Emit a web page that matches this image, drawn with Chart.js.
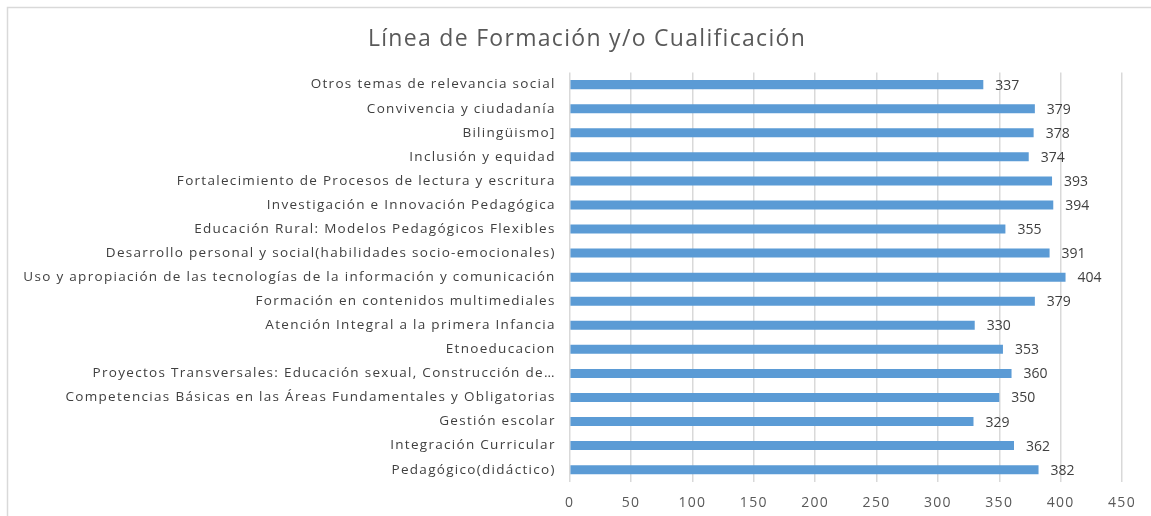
<!DOCTYPE html>
<html>
<head>
<meta charset="utf-8">
<script src="https://cdn.jsdelivr.net/npm/chart.js@4"></script>
<style>
  html, body { margin: 0; padding: 0; background: #ffffff; }
  #wrap { width: 1151px; height: 516px; position: relative; }
</style>
</head>
<body>
<div id="wrap"><canvas id="c" width="1151" height="516"></canvas></div>
<script>
const chartTitle = "Línea de Formación y/o Cualificación";
const categories = [
  "Otros temas de relevancia social",
  "Convivencia y ciudadanía",
  "Bilingüismo]",
  "Inclusión y equidad",
  "Fortalecimiento de Procesos de lectura y escritura",
  "Investigación e Innovación Pedagógica",
  "Educación Rural: Modelos Pedagógicos Flexibles",
  "Desarrollo personal y social(habilidades socio-emocionales)",
  "Uso y apropiación de las tecnologías de la información y comunicación",
  "Formación en contenidos multimediales",
  "Atención Integral a la primera Infancia",
  "Etnoeducacion",
  "Proyectos Transversales: Educación sexual, Construcción de…",
  "Competencias Básicas en las Áreas Fundamentales y Obligatorias",
  "Gestión escolar",
  "Integración Curricular",
  "Pedagógico(didáctico)"
];
const values = [337, 379, 378, 374, 393, 394, 355, 391, 404, 379, 330, 353, 360, 350, 329, 362, 382];
const xTicks = [0, 50, 100, 150, 200, 250, 300, 350, 400, 450];

const FONT = "'Open Sans', 'Liberation Sans', sans-serif";

const frame = {
  id: 'frame',
  beforeDraw(chart) {
    const ctx = chart.ctx;
    ctx.save();
    ctx.fillStyle = '#ffffff';
    ctx.fillRect(0, 0, chart.width, chart.height);
    ctx.strokeStyle = '#d9d9d9';
    ctx.lineWidth = 1.5;
    ctx.beginPath();
    ctx.moveTo(7.5, chart.height);
    ctx.lineTo(7.5, 7.5);
    ctx.lineTo(chart.width, 7.5);
    ctx.stroke();
    ctx.restore();
    // wider text to mimic the stretched Calibri of the original
    if ('letterSpacing' in ctx) ctx.letterSpacing = '1.3px';
  },
  beforeDatasetsDraw(chart) {
    if ('letterSpacing' in chart.ctx) chart.ctx.letterSpacing = '0px';
  }
};

const valueLabels = {
  id: 'valueLabels',
  afterDatasetsDraw(chart) {
    const ctx = chart.ctx;
    const meta = chart.getDatasetMeta(0);
    ctx.save();
    ctx.font = "14px " + FONT;
    ctx.fillStyle = '#404040';
    ctx.textAlign = 'left';
    ctx.textBaseline = 'middle';
    meta.data.forEach((bar, i) => {
      ctx.fillText(String(values[i]), bar.x + 12, bar.y + 1);
    });
    ctx.restore();
  }
};

new Chart(document.getElementById('c'), {
  type: 'bar',
  data: {
    labels: categories,
    datasets: [{
      data: values,
      backgroundColor: '#5b9bd5',
      borderWidth: 0,
      barPercentage: 0.375,
      categoryPercentage: 1.0
    }]
  },
  options: {
    indexAxis: 'y',
    responsive: false,
    animation: false,
    layout: { padding: { left: 52, right: 29, top: 0, bottom: 0 } },
    plugins: {
      legend: { display: false },
      tooltip: { enabled: false },
      title: {
        display: true,
        text: chartTitle,
        color: '#595959',
        font: { family: FONT, size: 23, weight: 'normal' },
        padding: { top: 26, bottom: 19 }
      }
    },
    scales: {
      x: {
        min: 0,
        max: 450,
        afterBuildTicks(scale) { scale.ticks = xTicks.map(v => ({ value: v })); },
        afterFit(scale) { scale.height = 34.3; },
        grid: { color: '#d9d9d9', lineWidth: 1.5, drawTicks: false },
        border: { display: false },
        ticks: {
          color: '#595959',
          padding: 13,
          font: { family: FONT, size: 14 }
        }
      },
      y: {
        afterFit(scale) { scale.width = 517.7; },
        afterUpdate(scale) { scale._computeLabelArea = () => undefined; },
        grid: { display: false, drawTicks: false },
        border: { display: false },
        ticks: {
          color: '#404040',
          padding: 14,
          autoSkip: false,
          font: { family: FONT, size: 13.5 }
        }
      }
    }
  },
  plugins: [frame, valueLabels]
});
</script>
</body>
</html>
